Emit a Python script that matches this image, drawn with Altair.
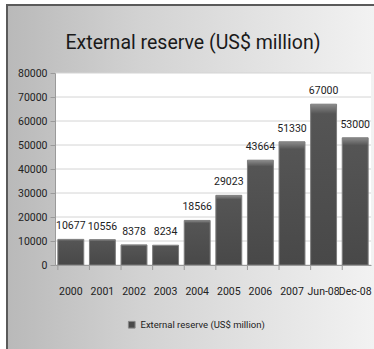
import altair as alt
import pandas as pd

categories = ["2000", "2001", "2002", "2003", "2004", "2005", "2006", "2007", "Jun-08", "Dec-08"]
values = [10677, 10556, 8378, 8234, 18566, 29023, 43664, 51330, 67000, 53000]
grid_values = [0, 10000, 20000, 30000, 40000, 50000, 60000, 70000, 80000]
series_name = "External reserve (US$ million)"
title_text = "External reserve (US$ million)"

FONT = "Roboto"
W, H = 316, 192

df = pd.DataFrame({"cat": categories, "val": values, "series": [series_name] * len(values)})
grid_df = pd.DataFrame({"g": grid_values})
one = pd.DataFrame({"a": [0]})
title_df = pd.DataFrame({"t": [title_text]})

x_axis = alt.Axis(labelAngle=0, labelFont=FONT, labelFontSize=10.5, labelColor="#222",
                  labelPadding=21, ticks=False, domainColor="#9a9a9a", zindex=1)
x_scale = alt.Scale(paddingInner=0.18, paddingOuter=0.09)
y_axis = alt.Axis(values=grid_values, format="d", grid=False, labelFont=FONT,
                  labelFontSize=10.5, labelColor="#222", tickColor="#9a9a9a",
                  tickSize=5, labelPadding=3, labelOverlap=False,
                  domainColor="#9a9a9a", zindex=1)
y_scale = alt.Scale(domain=[0, 80000], nice=False)


def X(**kw):
    return alt.X("cat:N", sort=categories, title=None, scale=x_scale, axis=x_axis, **kw)


def Y(field="val:Q"):
    return alt.Y(field, scale=y_scale, title=None, axis=y_axis)


bg_grad = alt.LinearGradient(
    gradient="linear",
    stops=[alt.GradientStop(color="#b9b9b9", offset=0),
           alt.GradientStop(color="#d2d2d2", offset=0.35),
           alt.GradientStop(color="#f3f3f3", offset=1)],
    x1=0, x2=1, y1=0, y2=0)

background = alt.Chart(one).mark_rect(fill=bg_grad, stroke="#5a5a5a", strokeWidth=2).encode(
    x=alt.value(-48), x2=alt.value(W + 10), y=alt.value(-68), y2=alt.value(H + 90))

plot_bg = alt.Chart(one).mark_rect(fill="white").encode(
    x=alt.value(0), x2=alt.value(W), y=alt.value(0), y2=alt.value(H))

title = alt.Chart(title_df).mark_text(font=FONT, fontSize=19.5, color="#1a1a1a",
                                      align="center", baseline="alphabetic").encode(
    x=alt.value(138), y=alt.value(-24), text="t:N")

grid = alt.Chart(grid_df).mark_rule(color="#d4d4d4", strokeWidth=1).encode(y=Y("g:Q"))

bar_grad = alt.LinearGradient(
    gradient="linear",
    stops=[alt.GradientStop(color="#8c8c8c", offset=0),
           alt.GradientStop(color="#555555", offset=0.06),
           alt.GradientStop(color="#484848", offset=1)],
    x1=0, x2=0, y1=0, y2=1)

bars = alt.Chart(df).mark_bar(fill=bar_grad, stroke="#7c7c7c", strokeWidth=1).encode(
    x=X(), y=Y())

xticks = alt.Chart(df).mark_rule(color="#9a9a9a").encode(
    x=X(bandPosition=0), y=alt.value(H), y2=alt.value(H + 5))

labels = alt.Chart(df).mark_text(font=FONT, fontSize=10.5, color="#222", baseline="bottom", dy=-8).encode(
    x=X(), y=Y(), text="val:Q")

legend_layer = alt.Chart(df).mark_square(opacity=0).encode(
    x=X(), y=Y(),
    color=alt.Color("series:N", scale=alt.Scale(range=["#4a4a4a"]),
                    legend=alt.Legend(title=None, orient="none", legendX=72, legendY=247,
                                      symbolType="square", symbolSize=45, symbolOpacity=1,
                                      symbolStrokeColor="#888", symbolStrokeWidth=1,
                                      labelFont=FONT, labelFontSize=9.5, labelColor="#222",
                                      labelLimit=300, zindex=1)))

chart = alt.layer(background, plot_bg, title, grid, bars, xticks, labels, legend_layer).properties(
    width=W, height=H,
    autosize=alt.AutoSizeParams(type="none"),
    padding={"left": 55, "top": 73, "right": 3, "bottom": 84},
    background="white",
).configure_view(stroke=None)

chart.save("out.html", embed_options={"renderer": "svg", "actions": False})
